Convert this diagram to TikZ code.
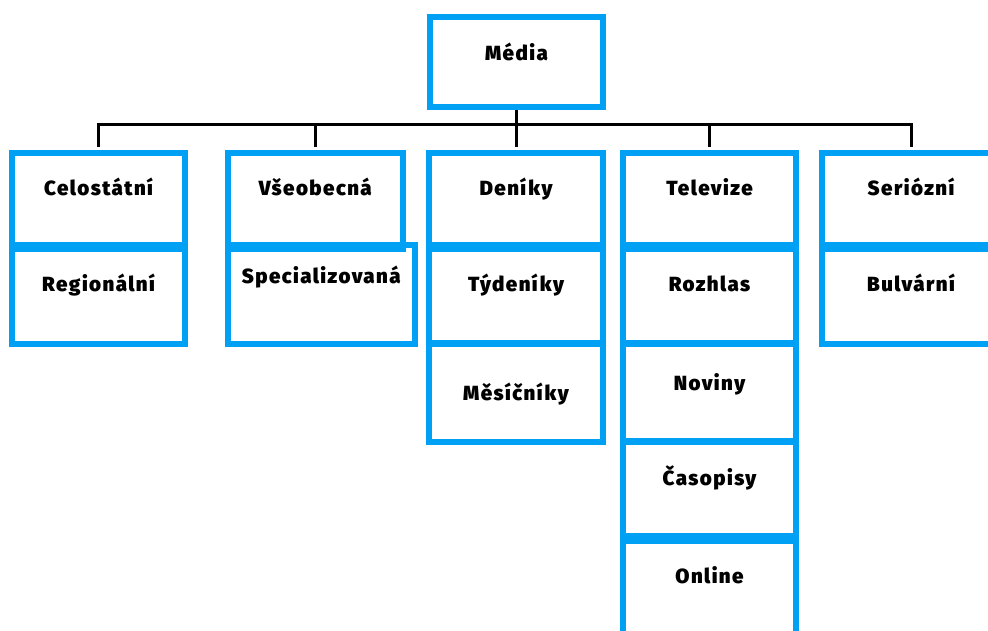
\documentclass[tikz,border=0pt]{standalone}
\usepackage{fontspec}
\newfontfamily\lblfont{Fira Sans}[UprightFont=* Black, BoldFont=* Black, LetterSpace=7]
\definecolor{boxblue}{RGB}{0,160,245}
\begin{document}
\begin{tikzpicture}[x=1pt,y=-1pt,
  box/.style={draw=boxblue, line width=6pt, rectangle, inner sep=0pt, line join=miter},
  lbl/.style={anchor=base, inner sep=0pt, font=\lblfont\fontsize{20.5}{24}\selectfont, text=black},
  conn/.style={draw=black, line width=3pt, line join=miter}]
\useasboundingbox (0,0) rectangle (988,630);
\clip (0,0) rectangle (988,630);

% root
\node[box, minimum width=173pt, minimum height=90pt] (media) at (516.5,62) {};

% column 1
\node[box, minimum width=173pt, minimum height=96pt] (cel) at (98.5,201) {};
\node[box, minimum width=173pt, minimum height=99pt] (reg) at (98.5,294.5) {};
% column 2
\node[box, minimum width=174.5pt, minimum height=96pt] (vse) at (315.25,201) {};
\node[box, minimum width=186.5pt, minimum height=99pt] (spe) at (321.25,294.5) {};
% column 3
\node[box, minimum width=174pt, minimum height=96pt] (den) at (516,201) {};
\node[box, minimum width=174pt, minimum height=99pt] (tyd) at (516,294.5) {};
\node[box, minimum width=174pt, minimum height=99.5pt] (mes) at (516,392.25) {};
% column 4
\node[box, minimum width=173pt, minimum height=96pt] (tel) at (709.5,201) {};
\node[box, minimum width=173pt, minimum height=99pt] (roz) at (709.5,294.5) {};
\node[box, minimum width=173pt, minimum height=99.5pt] (nov) at (709.5,392.25) {};
\node[box, minimum width=173pt, minimum height=100pt] (cas) at (709.5,491) {};
\node[box, minimum width=173pt, minimum height=144pt] (onl) at (709.5,608) {};
% column 5
\node[box, minimum width=178pt, minimum height=96pt] (ser) at (911,201) {};
\node[box, minimum width=178pt, minimum height=99pt] (bul) at (911,294.5) {};

% connectors: one bus under the root, a drop to each column head
\coordinate (bus) at (media.south |- 0,124.5);
\foreach \c in {cel,vse,den,tel,ser}
  \draw[conn] (media.south) -- (bus) -| ([yshift=3pt]\c.north);

% labels
\node[lbl] (tMedia) at (media.north |- 0,60) {Média};
\node[lbl] (tCel) at (cel.north |- 0,195) {Celostátní};
\node[lbl] (tReg) at (reg.north |- 0,291.5) {Regionální};
\node[lbl] (tVse) at (vse.north |- 0,195) {Všeobecná};
\node[lbl] (tSpe) at (spe.north |- 0,283) {Specializovaná};
\node[lbl] (tDen) at (den.north |- 0,195) {Deníky};
\node[lbl] (tTyd) at (tyd.north |- 0,291.5) {Týdeníky};
\node[lbl] (tMes) at (mes.north |- 0,400) {Měsíčníky};
\node[lbl] (tTel) at (tel.north |- 0,195) {Televize};
\node[lbl] (tRoz) at (roz.north |- 0,291.5) {Rozhlas};
\node[lbl] (tNov) at (nov.north |- 0,390) {Noviny};
\node[lbl] (tCas) at (cas.north |- 0,485) {Časopisy};
\node[lbl] (tOnl) at (onl.north |- 0,583) {Online};
\node[lbl] (tSer) at (ser.north |- 0,195) {Seriózní};
\node[lbl] (tBul) at (bul.north |- 0,291.5) {Bulvární};
\end{tikzpicture}
\end{document}
